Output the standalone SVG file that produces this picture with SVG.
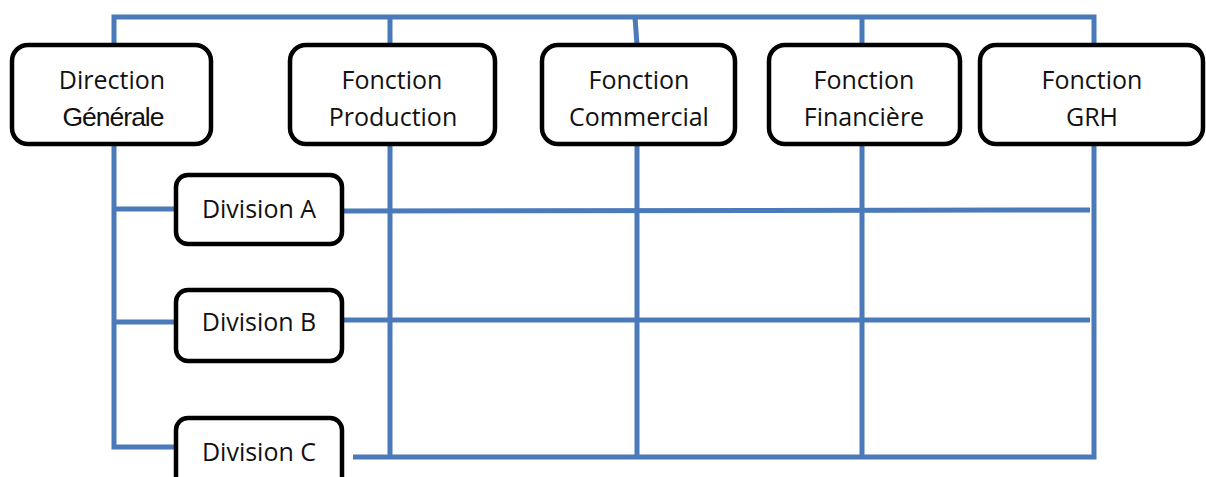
<svg xmlns="http://www.w3.org/2000/svg" width="1206" height="477" viewBox="0 0 1206 477">
<style>
.box{fill:#fff;stroke:#000;stroke-width:4.5}
.t{font-family:"Open Sans","Liberation Sans",sans-serif;font-size:25px;fill:#111;text-anchor:middle}
.g{font-family:"Liberation Sans",Arial,sans-serif;font-size:26.5px;fill:#111;text-anchor:middle;letter-spacing:-1px}
.c{fill:none;stroke:#4a7aba;stroke-width:5}
</style>
<rect width="1206" height="477" fill="#fff"/>
<g id="connectors">
<path class="c" d="M114 45 V17 H1094 V45"/>
<path class="c" d="M390 17 V45"/>
<path class="c" d="M635 17 L637 45"/>
<path class="c" d="M862 17 V45"/>
<path class="c" d="M114 146 V447 H176"/>
<path class="c" d="M114 209 H176"/>
<path class="c" d="M114 322 H176"/>
<path class="c" d="M344 211 L1090 210"/>
<path class="c" d="M344 320 H1090"/>
<path class="c" d="M353 457 H1094 V146"/>
<path class="c" d="M390 146 V457"/>
<path class="c" d="M637 137 V457"/>
<path class="c" d="M862 137 V457"/>
</g>
<g id="dg">
<rect class="box" x="12" y="45" width="199" height="99" rx="16"/>
<text class="t" x="112" y="89">Direction</text>
<text class="g" x="113" y="126">Générale</text>
</g>
<g id="production">
<rect class="box" x="290" y="45" width="205" height="99" rx="16"/>
<text class="t" x="392" y="89">Fonction</text>
<text class="t" x="393" y="126">Production</text>
</g>
<g id="commercial">
<rect class="box" x="542" y="45" width="193" height="99" rx="16"/>
<text class="t" x="639" y="89">Fonction</text>
<text class="t" x="639" y="126">Commercial</text>
</g>
<g id="financiere">
<rect class="box" x="769" y="45" width="191" height="99" rx="16"/>
<text class="t" x="864" y="89">Fonction</text>
<text class="t" x="864" y="126">Financière</text>
</g>
<g id="grh">
<rect class="box" x="980" y="45" width="223" height="99" rx="16"/>
<text class="t" x="1092" y="89">Fonction</text>
<text class="t" x="1092" y="126">GRH</text>
</g>
<g id="divA">
<rect class="box" x="176" y="175" width="166" height="69" rx="12"/>
<text class="t" x="259" y="218">Division A</text>
</g>
<g id="divB">
<rect class="box" x="176" y="290" width="166" height="71" rx="12"/>
<text class="t" x="259" y="331">Division B</text>
</g>
<g id="divC">
<rect class="box" x="176" y="418" width="166" height="72" rx="12"/>
<text class="t" x="259" y="461">Division C</text>
</g>
</svg>
